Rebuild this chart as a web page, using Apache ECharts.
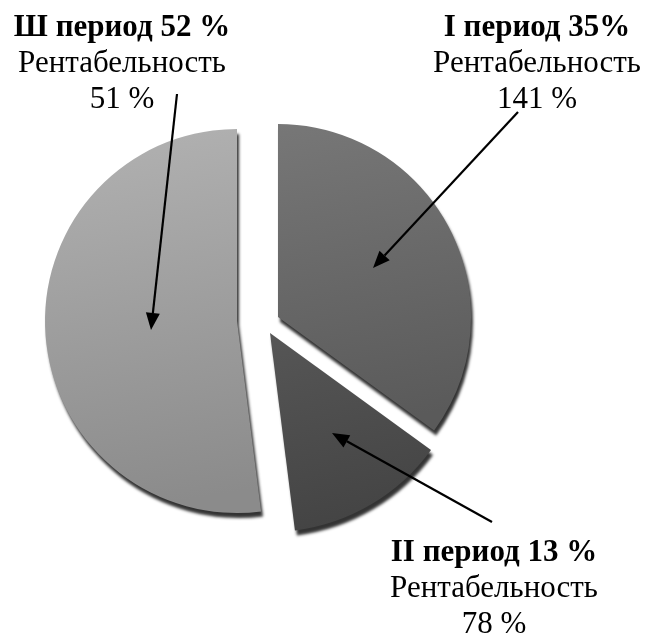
<!DOCTYPE html>
<html>
<head>
<meta charset="utf-8">
<script src="https://cdn.jsdelivr.net/npm/echarts@6/dist/echarts.min.js"></script>
<style>
html,body{margin:0;padding:0;background:#fff;}
#main{width:661px;height:637px;}
</style>
</head>
<body>
<div id="main"></div>
<script>
// data
var periods = ['I период', 'II период', 'Ш период'];
var shares = [35, 13, 52];
var profit = [141, 78, 51];
var shareText = ['35%', '13 %', '52 %'];

// look of each slice
var centers = [[278, 317], [270, 333], [237, 321]];
var radii = [193, 199, 192];
var fills = [
  ['#777777', '#5a5a5a'],
  ['#565656', '#444444'],
  ['#b2b2b2', '#8b8b8b']
];
// label anchor (centre of first line) and arrow tail/tip
var labelPos = [[537, 28], [494, 553], [122, 28]];
var arrows = [
  [[518, 112], [373, 268]],
  [[492, 522], [332, 433]],
  [[177, 94], [151, 330]]
];

var myChart = echarts.init(document.getElementById('main'));

var series = [];
for (var i = 0; i < shares.length; i++) {
  var data = shares.map(function (v, j) {
    if (j === i) {
      return {
        value: v, name: periods[j],
        itemStyle: {
          color: new echarts.graphic.LinearGradient(0, 0, 0.3, 1, [
            {offset: 0, color: fills[j][0]},
            {offset: 1, color: fills[j][1]}
          ]),
          shadowColor: 'rgba(0,0,0,0.8)',
          shadowBlur: 3,
          shadowOffsetX: 2,
          shadowOffsetY: 5
        }
      };
    }
    return {value: v, name: periods[j], itemStyle: {color: 'rgba(0,0,0,0)'}};
  });
  series.push({
    type: 'pie',
    center: centers[i],
    radius: radii[i],
    startAngle: 90,
    clockwise: true,
    silent: true,
    animation: false,
    label: {show: false},
    labelLine: {show: false},
    data: data
  });
}

var elements = [];
var font = '"Liberation Serif", "Times New Roman", serif';
for (var k = 0; k < periods.length; k++) {
  var p = labelPos[k];
  var lines = [
    {t: periods[k] + ' ' + shareText[k], w: 'bold'},
    {t: 'Рентабельность', w: 'normal'},
    {t: profit[k] + ' %', w: 'normal'}
  ];
  lines.forEach(function (l, n) {
    elements.push({
      type: 'text', x: p[0], y: p[1] + n * 36, z: 10,
      style: {
        text: l.t, fill: '#000', font: l.w + ' 31px ' + font,
        textAlign: 'center', textVerticalAlign: 'middle'
      }
    });
  });
  // arrow
  var a = arrows[k][0], b = arrows[k][1];
  var dx = b[0] - a[0], dy = b[1] - a[1];
  var len = Math.sqrt(dx * dx + dy * dy);
  var ux = dx / len, uy = dy / len;
  var hl = 17, hw = 7;
  var bx = b[0] - ux * hl, by = b[1] - uy * hl;
  elements.push({
    type: 'line', z: 10,
    shape: {x1: a[0], y1: a[1], x2: bx, y2: by},
    style: {stroke: '#000', lineWidth: 2.2}
  });
  elements.push({
    type: 'polygon', z: 10,
    shape: {points: [[b[0], b[1]], [bx - uy * hw, by + ux * hw], [bx + uy * hw, by - ux * hw]]},
    style: {fill: '#000'}
  });
}

myChart.setOption({
  backgroundColor: '#fff',
  series: series,
  graphic: {elements: elements}
});
</script>
</body>
</html>
